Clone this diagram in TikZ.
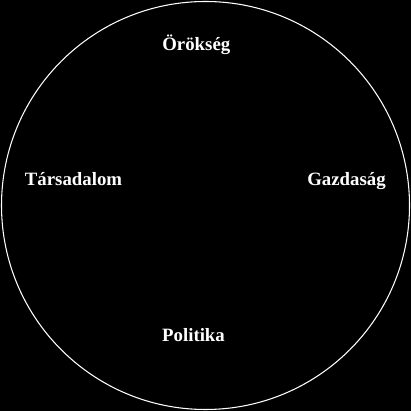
\documentclass[tikz,border=0pt]{standalone}
\usepackage{fontspec}
\setmainfont{Liberation Serif}
\usetikzlibrary{positioning}

\begin{document}
\begin{tikzpicture}[x=0.02cm,y=0.02cm]
\tikzset{label/.style={font=\fontsize{10.7}{12}\selectfont\bfseries,text=white,anchor=base,inner sep=0pt}}
\draw[fill=black,draw=none] (0,0) rectangle (411,411);
\draw[white,line width=0.6pt] (205.5,205.5) circle (204);
\node[label] (orokseg) at (196.3,360.3) {Örökség};
\node[label] (tarsadalom) at (73.5,225.3) {Társadalom};
\node[label] (gazdasag) at (346.5,225.3) {Gazdaság};
\node[label] (politika) at (193.5,69.3) {Politika};
\end{tikzpicture}
\end{document}
